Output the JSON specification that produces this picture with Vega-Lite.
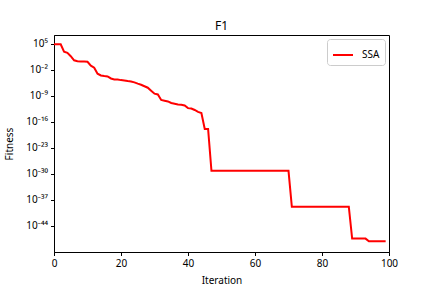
{
  "$schema": "https://vega.github.io/schema/vega-lite/v6.json",
  "autosize": "none",
  "width": 335,
  "height": 217,
  "padding": {"left": 54, "top": 35, "right": 43, "bottom": 36},
  "background": "white",
  "title": {"text": "F1", "fontSize": 12, "fontWeight": "normal", "font": "Noto Sans", "color": "black", "offset": 2},
  "config": {
    "font": "Noto Sans",
    "view": {"stroke": "black", "strokeWidth": 1},
    "axis": {
      "grid": false,
      "domainColor": "black",
      "tickColor": "black",
      "tickSize": 3.5,
      "labelFontSize": 10,
      "labelColor": "black",
      "labelFlush": false,
      "titleFontSize": 10,
      "titleFontWeight": "normal",
      "titleColor": "black",
      "labelPadding": 3
    }
  },
  "data": {
    "values": [
      {"Iteration": 0, "Fitness": 7.9e4, "Algorithm": "SSA"},
      {"Iteration": 1, "Fitness": 7.9e4, "Algorithm": "SSA"},
      {"Iteration": 2, "Fitness": 7.9e4, "Algorithm": "SSA"},
      {"Iteration": 3, "Fitness": 7.9e2, "Algorithm": "SSA"},
      {"Iteration": 4, "Fitness": 4.0e2, "Algorithm": "SSA"},
      {"Iteration": 5, "Fitness": 50, "Algorithm": "SSA"},
      {"Iteration": 6, "Fitness": 4.0, "Algorithm": "SSA"},
      {"Iteration": 7, "Fitness": 2.2, "Algorithm": "SSA"},
      {"Iteration": 8, "Fitness": 2.0, "Algorithm": "SSA"},
      {"Iteration": 9, "Fitness": 1.8, "Algorithm": "SSA"},
      {"Iteration": 10, "Fitness": 1.6, "Algorithm": "SSA"},
      {"Iteration": 11, "Fitness": 0.14, "Algorithm": "SSA"},
      {"Iteration": 12, "Fitness": 0.04, "Algorithm": "SSA"},
      {"Iteration": 13, "Fitness": 1e-3, "Algorithm": "SSA"},
      {"Iteration": 14, "Fitness": 3.2e-4, "Algorithm": "SSA"},
      {"Iteration": 15, "Fitness": 2.2e-4, "Algorithm": "SSA"},
      {"Iteration": 16, "Fitness": 1.8e-4, "Algorithm": "SSA"},
      {"Iteration": 17, "Fitness": 5e-5, "Algorithm": "SSA"},
      {"Iteration": 18, "Fitness": 2.8e-5, "Algorithm": "SSA"},
      {"Iteration": 19, "Fitness": 2.5e-5, "Algorithm": "SSA"},
      {"Iteration": 20, "Fitness": 1.8e-5, "Algorithm": "SSA"},
      {"Iteration": 21, "Fitness": 1.4e-5, "Algorithm": "SSA"},
      {"Iteration": 22, "Fitness": 1e-5, "Algorithm": "SSA"},
      {"Iteration": 23, "Fitness": 7.9e-6, "Algorithm": "SSA"},
      {"Iteration": 24, "Fitness": 4.5e-6, "Algorithm": "SSA"},
      {"Iteration": 25, "Fitness": 2e-6, "Algorithm": "SSA"},
      {"Iteration": 26, "Fitness": 1e-6, "Algorithm": "SSA"},
      {"Iteration": 27, "Fitness": 4e-7, "Algorithm": "SSA"},
      {"Iteration": 28, "Fitness": 1.6e-7, "Algorithm": "SSA"},
      {"Iteration": 29, "Fitness": 2.5e-8, "Algorithm": "SSA"},
      {"Iteration": 30, "Fitness": 4e-9, "Algorithm": "SSA"},
      {"Iteration": 31, "Fitness": 2.5e-9, "Algorithm": "SSA"},
      {"Iteration": 32, "Fitness": 8e-11, "Algorithm": "SSA"},
      {"Iteration": 33, "Fitness": 5e-11, "Algorithm": "SSA"},
      {"Iteration": 34, "Fitness": 3.2e-11, "Algorithm": "SSA"},
      {"Iteration": 35, "Fitness": 1.26e-11, "Algorithm": "SSA"},
      {"Iteration": 36, "Fitness": 8e-12, "Algorithm": "SSA"},
      {"Iteration": 37, "Fitness": 5e-12, "Algorithm": "SSA"},
      {"Iteration": 38, "Fitness": 4e-12, "Algorithm": "SSA"},
      {"Iteration": 39, "Fitness": 2.5e-12, "Algorithm": "SSA"},
      {"Iteration": 40, "Fitness": 5e-13, "Algorithm": "SSA"},
      {"Iteration": 41, "Fitness": 4e-13, "Algorithm": "SSA"},
      {"Iteration": 42, "Fitness": 1.6e-13, "Algorithm": "SSA"},
      {"Iteration": 43, "Fitness": 5e-14, "Algorithm": "SSA"},
      {"Iteration": 44, "Fitness": 2.5e-14, "Algorithm": "SSA"},
      {"Iteration": 45, "Fitness": 1.26e-18, "Algorithm": "SSA"},
      {"Iteration": 46, "Fitness": 1.26e-18, "Algorithm": "SSA"},
      {"Iteration": 47, "Fitness": 6.3e-30, "Algorithm": "SSA"},
      {"Iteration": 48, "Fitness": 6.3e-30, "Algorithm": "SSA"},
      {"Iteration": 49, "Fitness": 6.3e-30, "Algorithm": "SSA"},
      {"Iteration": 50, "Fitness": 6.3e-30, "Algorithm": "SSA"},
      {"Iteration": 51, "Fitness": 6.3e-30, "Algorithm": "SSA"},
      {"Iteration": 52, "Fitness": 6.3e-30, "Algorithm": "SSA"},
      {"Iteration": 53, "Fitness": 6.3e-30, "Algorithm": "SSA"},
      {"Iteration": 54, "Fitness": 6.3e-30, "Algorithm": "SSA"},
      {"Iteration": 55, "Fitness": 6.3e-30, "Algorithm": "SSA"},
      {"Iteration": 56, "Fitness": 6.3e-30, "Algorithm": "SSA"},
      {"Iteration": 57, "Fitness": 6.3e-30, "Algorithm": "SSA"},
      {"Iteration": 58, "Fitness": 6.3e-30, "Algorithm": "SSA"},
      {"Iteration": 59, "Fitness": 6.3e-30, "Algorithm": "SSA"},
      {"Iteration": 60, "Fitness": 6.3e-30, "Algorithm": "SSA"},
      {"Iteration": 61, "Fitness": 6.3e-30, "Algorithm": "SSA"},
      {"Iteration": 62, "Fitness": 6.3e-30, "Algorithm": "SSA"},
      {"Iteration": 63, "Fitness": 6.3e-30, "Algorithm": "SSA"},
      {"Iteration": 64, "Fitness": 6.3e-30, "Algorithm": "SSA"},
      {"Iteration": 65, "Fitness": 6.3e-30, "Algorithm": "SSA"},
      {"Iteration": 66, "Fitness": 6.3e-30, "Algorithm": "SSA"},
      {"Iteration": 67, "Fitness": 6.3e-30, "Algorithm": "SSA"},
      {"Iteration": 68, "Fitness": 6.3e-30, "Algorithm": "SSA"},
      {"Iteration": 69, "Fitness": 6.3e-30, "Algorithm": "SSA"},
      {"Iteration": 70, "Fitness": 6.3e-30, "Algorithm": "SSA"},
      {"Iteration": 71, "Fitness": 1.26e-39, "Algorithm": "SSA"},
      {"Iteration": 72, "Fitness": 1.26e-39, "Algorithm": "SSA"},
      {"Iteration": 73, "Fitness": 1.26e-39, "Algorithm": "SSA"},
      {"Iteration": 74, "Fitness": 1.26e-39, "Algorithm": "SSA"},
      {"Iteration": 75, "Fitness": 1.26e-39, "Algorithm": "SSA"},
      {"Iteration": 76, "Fitness": 1.26e-39, "Algorithm": "SSA"},
      {"Iteration": 77, "Fitness": 1.26e-39, "Algorithm": "SSA"},
      {"Iteration": 78, "Fitness": 1.26e-39, "Algorithm": "SSA"},
      {"Iteration": 79, "Fitness": 1.26e-39, "Algorithm": "SSA"},
      {"Iteration": 80, "Fitness": 1.26e-39, "Algorithm": "SSA"},
      {"Iteration": 81, "Fitness": 1.26e-39, "Algorithm": "SSA"},
      {"Iteration": 82, "Fitness": 1.26e-39, "Algorithm": "SSA"},
      {"Iteration": 83, "Fitness": 1.26e-39, "Algorithm": "SSA"},
      {"Iteration": 84, "Fitness": 1.26e-39, "Algorithm": "SSA"},
      {"Iteration": 85, "Fitness": 1.26e-39, "Algorithm": "SSA"},
      {"Iteration": 86, "Fitness": 1.26e-39, "Algorithm": "SSA"},
      {"Iteration": 87, "Fitness": 1.26e-39, "Algorithm": "SSA"},
      {"Iteration": 88, "Fitness": 1.26e-39, "Algorithm": "SSA"},
      {"Iteration": 89, "Fitness": 3.2e-48, "Algorithm": "SSA"},
      {"Iteration": 90, "Fitness": 3.2e-48, "Algorithm": "SSA"},
      {"Iteration": 91, "Fitness": 3.2e-48, "Algorithm": "SSA"},
      {"Iteration": 92, "Fitness": 3.2e-48, "Algorithm": "SSA"},
      {"Iteration": 93, "Fitness": 3.2e-48, "Algorithm": "SSA"},
      {"Iteration": 94, "Fitness": 6.3e-49, "Algorithm": "SSA"},
      {"Iteration": 95, "Fitness": 6.3e-49, "Algorithm": "SSA"},
      {"Iteration": 96, "Fitness": 6.3e-49, "Algorithm": "SSA"},
      {"Iteration": 97, "Fitness": 6.3e-49, "Algorithm": "SSA"},
      {"Iteration": 98, "Fitness": 6.3e-49, "Algorithm": "SSA"},
      {"Iteration": 99, "Fitness": 6.3e-49, "Algorithm": "SSA"}
    ]
  },
  "mark": {"type": "line", "strokeWidth": 2, "clip": true},
  "encoding": {
    "x": {
      "field": "Iteration",
      "type": "quantitative",
      "scale": {"domain": [0, 100], "nice": false, "zero": false},
      "axis": {"values": [0, 20, 40, 60, 80, 100], "title": "Iteration", "titlePadding": 7}
    },
    "y": {
      "field": "Fitness",
      "type": "quantitative",
      "scale": {"type": "log", "domain": [7.9e-52, 2.65e7], "nice": false},
      "axis": {
        "values": [1e5, 1e-2, 1e-9, 1e-16, 1e-23, 1e-30, 1e-37, 1e-44],
        "labelExpr": "'10' + (round(log(datum.value)/LN10) < 0 ? '⁻' : '') + (floor(abs(round(log(datum.value)/LN10))/10) > 0 ? substring('⁰¹²³⁴⁵⁶⁷⁸⁹', floor(abs(round(log(datum.value)/LN10))/10), floor(abs(round(log(datum.value)/LN10))/10) + 1) : '') + substring('⁰¹²³⁴⁵⁶⁷⁸⁹', abs(round(log(datum.value)/LN10)) % 10, abs(round(log(datum.value)/LN10)) % 10 + 1)",
        "title": "Fitness",
        "titlePadding": 11
      }
    },
    "color": {
      "field": "Algorithm",
      "type": "nominal",
      "scale": {"domain": ["SSA"], "range": ["#ff0000"]},
      "legend": {
        "title": null,
        "orient": "top-right",
        "offset": 4,
        "padding": 5,
        "strokeColor": "#cccccc",
        "cornerRadius": 3,
        "fillColor": "white",
        "symbolType": "stroke",
        "symbolSize": 400,
        "symbolStrokeWidth": 2,
        "labelFontSize": 10,
        "labelColor": "black",
        "labelOffset": 8
      }
    }
  }
}
